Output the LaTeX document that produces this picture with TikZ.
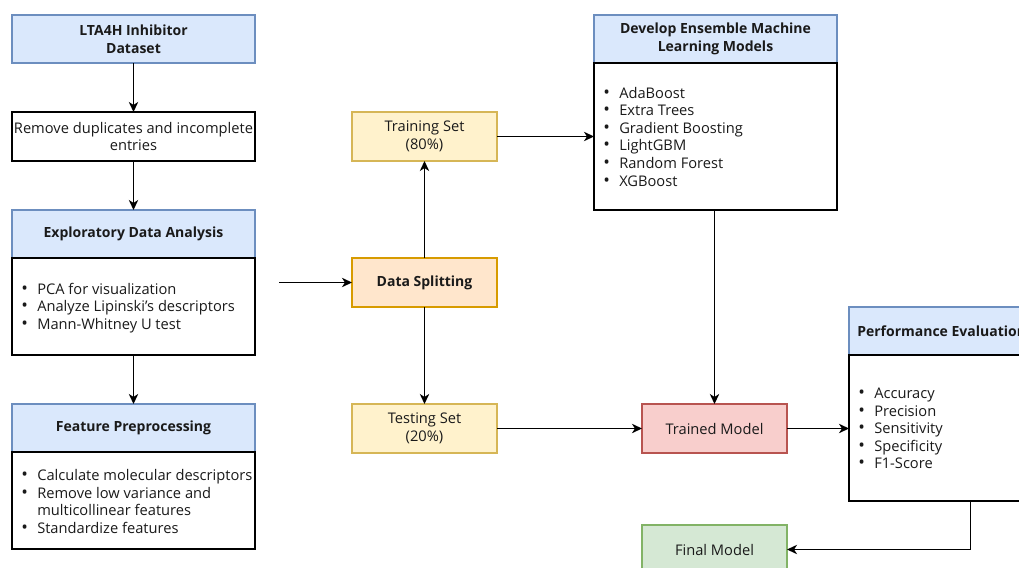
\documentclass[tikz,border=0pt]{standalone}
\usepackage{fontspec}
\setmainfont{Open Sans}
\usetikzlibrary{arrows.meta}
\definecolor{bfill}{HTML}{DAE8FC}\definecolor{bline}{HTML}{6C8EBF}
\definecolor{ofill}{HTML}{FFE6CC}\definecolor{oline}{HTML}{D79B00}
\definecolor{yfill}{HTML}{FFF2CC}\definecolor{yline}{HTML}{D6B656}
\definecolor{rfill}{HTML}{F8CECC}\definecolor{rline}{HTML}{B85450}
\definecolor{gfill}{HTML}{D5E8D4}\definecolor{gline}{HTML}{82B366}
\definecolor{txt}{HTML}{1A1A1A}
\tikzset{
  base/.style={rectangle, inner sep=0pt, outer sep=0pt, line width=1.1pt, anchor=north west, align=center, text=txt,
    font=\fontsize{11}{13.2}\selectfont},
  hdr/.style={base, draw=bline, fill=bfill, minimum width=182.25pt, minimum height=36pt, font=\fontsize{10.5}{13.5}\selectfont\bfseries},
  body/.style={base, draw=black, fill=white, minimum width=182.25pt},
  small/.style={base, minimum width=108.75pt, minimum height=36.75pt},
  lst/.style={anchor=west, inner sep=0pt, align=left, text=txt, font=\fontsize{11}{13.2}\selectfont},
  arr/.style={line width=1.1pt, -{Stealth[length=7.5pt,width=7pt,inset=2.2pt]}}
}
\newcommand{\bu}{\makebox[12pt][l]{\scalebox{1.2}{\textbullet}}}
\newcommand{\ind}{\hspace*{12pt}}
\begin{document}
\begin{tikzpicture}[x=0.75pt,y=-0.75pt]
\useasboundingbox (0,0) rectangle (1019,567);
\clip (0,0) rectangle (1019,567);
% left column
\node[hdr] (lta) at (12,15) {LTA4H Inhibitor\\Dataset};
\node[body, minimum height=36.75pt] (rem) at (12,112) {Remove duplicates and incomplete\\entries};
\node[hdr] (edah) at (12,210) {Exploratory Data Analysis};
\node[body, minimum height=72.75pt] (edab) at (12,258) {};
\node[lst] (edal) at (21,308) {\bu PCA for visualization\\ \bu Analyze Lipinski's descriptors\\ \bu Mann-Whitney U test};
\node[hdr] (feh) at (12,404) {Feature Preprocessing};
\node[body, minimum height=72.75pt] (feb) at (12,452) {};
\node[lst] (fel) at (21,501.5) {\bu Calculate molecular descriptors\\ \bu Remove low variance and\\ \ind multicollinear features\\ \bu Standardize features};
% middle column
\node[small, draw=yline, fill=yfill] (train) at (352,112) {Training Set\\(80\%)};
\node[small, draw=oline, fill=ofill, font=\fontsize{10.5}{13.2}\selectfont\bfseries] (split) at (352,258) {Data Splitting};
\node[small, draw=yline, fill=yfill] (test) at (352,404) {Testing Set\\(20\%)};
% right
\node[hdr] (devh) at (594,15) {Develop Ensemble Machine\\Learning Models};
\node[body, minimum height=110.25pt] (devb) at (594,63) {};
\node[lst] (devl) at (603,136.5) {\bu AdaBoost\\ \bu Extra Trees\\ \bu Gradient Boosting\\ \bu LightGBM\\ \bu Random Forest\\ \bu XGBoost};
\node[small, draw=rline, fill=rfill] (trained) at (642,404) {Trained Model};
\node[hdr] (perfh) at (849,307) {};
\node[anchor=west, inner sep=0pt, text=txt, font=\fontsize{10.5}{13.5}\selectfont\bfseries] (perft) at (857,331) {Performance Evaluation};
\node[body, minimum height=109.5pt] (perfb) at (849,355) {};
\node[lst] (perfl) at (858,428.5) {\bu Accuracy\\ \bu Precision\\ \bu Sensitivity\\ \bu Specificity\\ \bu F1-Score};
\node[small, draw=gline, fill=gfill] (final) at (642,525) {Final Model};
% connectors
\draw[arr] (lta.south) -- (rem.north);
\draw[arr] (rem.south) -- (edah.north);
\draw[arr] (edab.south) -- (feh.north);
\coordinate (free) at (279,282.5);
\draw[arr] (free) -- (split.west);
\draw[arr] (split.north) -- (train.south);
\draw[arr] (split.south) -- (test.north);
\draw[arr] (train.east) -- (devb.west |- train.east);
\draw[arr] (devb.south -| trained.north) -- (trained.north);
\draw[arr] (test.east) -- (trained.west);
\draw[arr] (trained.east) -- (perfb.west |- trained.east);
\draw[arr] (perfb.south) |- (final.east);
\end{tikzpicture}
\end{document}
